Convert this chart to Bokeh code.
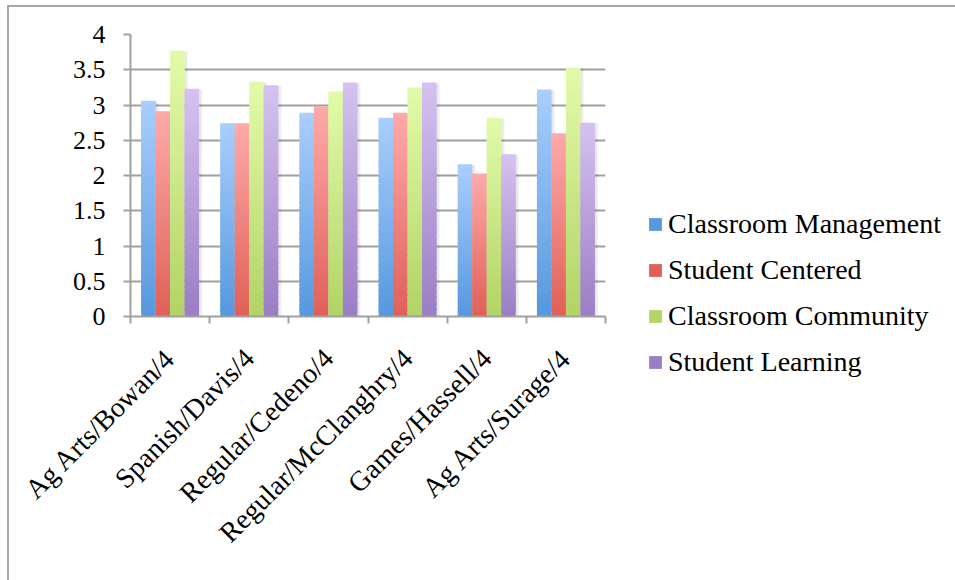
import math
from bokeh.plotting import figure
from bokeh.models import (ColumnDataSource, FixedTicker, NumeralTickFormatter,
                          Legend, LegendItem, InlineStyleSheet)
from bokeh.embed import file_html
from bokeh.resources import INLINE

# ---- data -------------------------------------------------------------
groups = ["Ag Arts/Bowan/4", "Spanish/Davis/4", "Regular/Cedeno/4",
          "Regular/McClanghry/4", "Games/Hassell/4", "Ag Arts/Surage/4"]
series = ["Classroom Management", "Student Centered",
          "Classroom Community", "Student Learning"]
classroom_management = [3.06, 2.74, 2.89, 2.82, 2.16, 3.22]
student_centered = [2.91, 2.74, 2.98, 2.89, 2.03, 2.60]
classroom_community = [3.77, 3.33, 3.19, 3.25, 2.82, 3.53]
student_learning = [3.23, 3.28, 3.32, 3.32, 2.30, 2.75]
y_ticks = [0, 0.5, 1, 1.5, 2, 2.5, 3, 3.5, 4]

values = [classroom_management, student_centered,
          classroom_community, student_learning]

# gradient end colours per series (top, bottom)
top_colors = ["#aacefd", "#fdaaa9", "#e2fbaa", "#d5c2f0"]
bottom_colors = ["#5598de", "#e05f58", "#b2d365", "#9a7dc4"]

FONT = "Liberation Serif"
BAR_W = 0.183
OFFSETS = [-1.5 * BAR_W, -0.5 * BAR_W, 0.5 * BAR_W, 1.5 * BAR_W]
N_STEPS = 40


def hex_to_rgb(h):
    h = h.lstrip("#")
    return tuple(int(h[i:i + 2], 16) for i in (0, 2, 4))


def mix(c1, c2, t):
    a, b = hex_to_rgb(c1), hex_to_rgb(c2)
    return "#%02x%02x%02x" % tuple(round(a[k] + (b[k] - a[k]) * t) for k in range(3))


p = figure(frame_width=475, frame_height=282,
           x_range=(0, len(groups)), y_range=(0, 4),
           output_backend="svg", toolbar_location=None,
           min_border_left=130, min_border_right=0,
           min_border_top=34, min_border_bottom=264)
p.outline_line_color = None
p.background_fill_color = "white"
p.border_fill_color = "white"

# soft drop shadow to the right of each bar
for s, vals in enumerate(values):
    xs = [i + 0.5 + OFFSETS[s] for i in range(len(groups))]
    for dx, extra, alpha in [(0.035, 0.02, 0.035), (0.025, 0.01, 0.05)]:
        p.vbar(x=[x + dx for x in xs], width=BAR_W + extra,
               top=[v - 0.01 for v in vals], bottom=0,
               fill_color="black", fill_alpha=alpha, line_color=None)

# bars, each filled with a vertical gradient (dark at the base, light at the top)
legend_items = []
for s, vals in enumerate(values):
    xs, bottoms, tops, colors = [], [], [], []
    for i, v in enumerate(vals):
        step = v / N_STEPS
        for k in range(N_STEPS):
            xs.append(i + 0.5 + OFFSETS[s])
            bottoms.append(step * k)
            tops.append(min(v, step * (k + 1.6)))
            colors.append(mix(bottom_colors[s], top_colors[s], (k + 0.5) / N_STEPS))
    src = ColumnDataSource(dict(x=xs, bottom=bottoms, top=tops, color=colors))
    r = p.vbar(x="x", width=BAR_W, bottom="bottom", top="top", source=src,
               fill_color="color", line_color=None)
    legend_items.append(LegendItem(label=series[s], renderers=[r]))

# axes
p.xaxis.ticker = FixedTicker(ticks=[i + 0.5 for i in range(len(groups))],
                             minor_ticks=list(range(len(groups) + 1)))
p.xaxis.major_label_overrides = {i + 0.5: g for i, g in enumerate(groups)}
p.xaxis.major_label_orientation = math.pi / 4
p.xaxis.major_tick_out = 0
p.xaxis.major_tick_in = 0
p.xaxis.minor_tick_out = 7
p.xaxis.minor_tick_in = 0
p.xaxis.minor_tick_line_color = "#a0a0a0"
p.xaxis.minor_tick_line_width = 2
p.xaxis.major_label_standoff = 30

p.yaxis.ticker = FixedTicker(ticks=y_ticks, minor_ticks=[])
p.yaxis.formatter = NumeralTickFormatter(format="0.[0]")
p.yaxis.major_tick_out = 7
p.yaxis.major_tick_in = 0
p.yaxis.major_tick_line_color = "#a0a0a0"
p.yaxis.major_tick_line_width = 2
p.yaxis.major_label_standoff = 18

for ax in (p.xaxis, p.yaxis):
    ax.axis_line_color = "#a0a0a0"
    ax.axis_line_width = 2
    ax.major_label_text_font = FONT
    ax.major_label_text_color = "black"
p.xaxis.major_label_text_font_size = "28px"
p.yaxis.major_label_text_font_size = "26px"

p.xgrid.grid_line_color = None
p.ygrid.ticker = FixedTicker(ticks=y_ticks)
p.ygrid.grid_line_color = "#a0a0a0"
p.ygrid.grid_line_width = 2

legend = Legend(items=legend_items, location=(42, -62),
                label_text_font=FONT, label_text_font_size="28px",
                label_text_color="black", glyph_width=16, glyph_height=16,
                label_standoff=5, spacing=14, padding=0, margin=0,
                border_line_color=None, background_fill_alpha=0)
p.add_layout(legend, "right")

# thin grey frame around the whole chart area
p.stylesheets = [InlineStyleSheet(css=(
    ":host::after { content: ''; position: absolute; left: 7px; top: 5px; "
    "right: 0; bottom: 0; border-left: 2px solid #a8a8a8; "
    "border-top: 2px solid #a8a8a8; pointer-events: none; }"))]

open("out.html", "w").write(file_html(p, INLINE))
